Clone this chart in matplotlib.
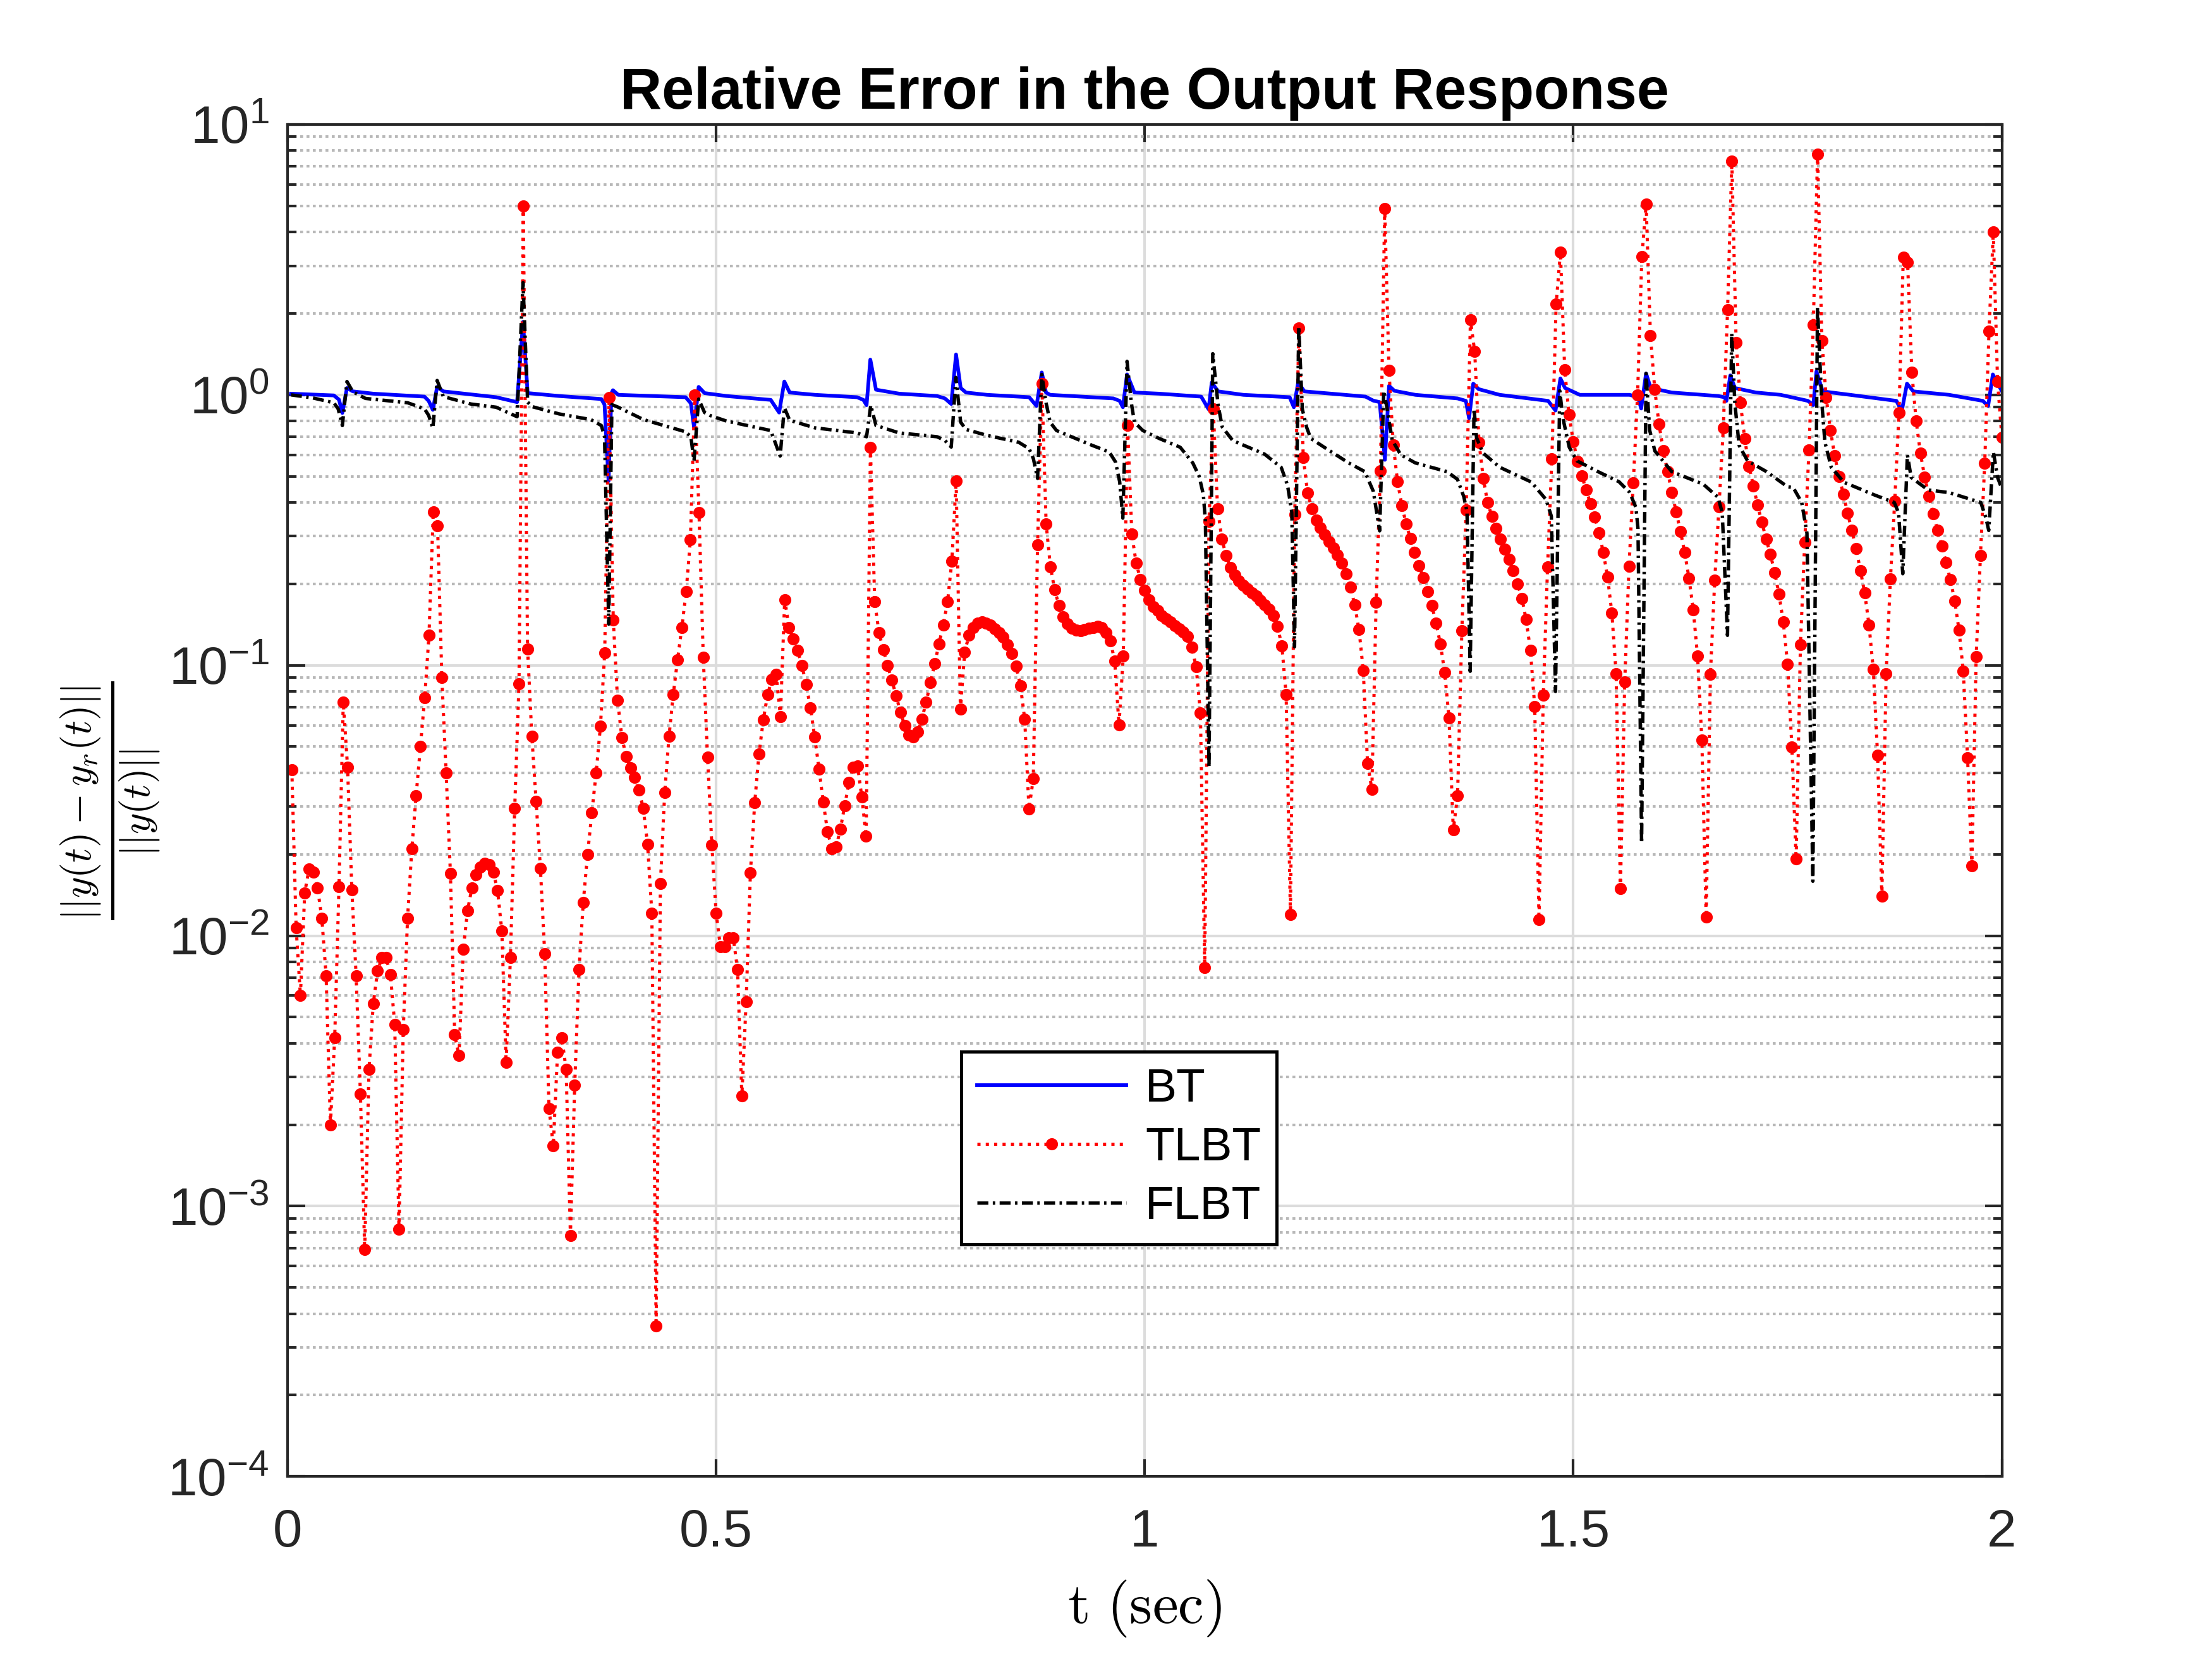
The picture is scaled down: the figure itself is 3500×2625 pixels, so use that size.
import matplotlib
matplotlib.use('Agg')
import matplotlib.pyplot as plt
import numpy as np
from matplotlib.ticker import LogLocator, NullFormatter, FixedLocator

plt.rcParams['font.family'] = ['Liberation Sans', 'DejaVu Sans']
plt.rcParams['mathtext.fontset'] = 'cm'

### TLBT: one marker every 0.005 s (t = 0 is not drawn) ###
tlbt = [
    0.041, 0.0107, 0.0060, 0.0144, 0.0176, 0.0172, 0.0150, 0.0116, 0.0071, 0.0020,
    0.0042, 0.0152, 0.073, 0.042, 0.0148, 0.0071, 0.0026, 0.00069, 0.0032, 0.0056,
    0.0074, 0.0083, 0.0083, 0.0072, 0.0047, 0.00082, 0.0045, 0.0116, 0.021, 0.033,
    0.050, 0.076, 0.129, 0.37, 0.328, 0.090, 0.040, 0.0170, 0.0043, 0.0036,
    0.0089, 0.0124, 0.0150, 0.0168, 0.0179, 0.0185, 0.0183, 0.0172, 0.0147, 0.0104,
    0.0034, 0.0083, 0.0296, 0.0855, 5.0, 0.115, 0.0547, 0.0313, 0.0177, 0.0086,
    0.0023, 0.00167, 0.0037, 0.0042, 0.0032, 0.00078, 0.0028, 0.0075, 0.0133, 0.020,
    0.0285, 0.040, 0.0594, 0.111, 0.98, 0.147, 0.0742, 0.0541, 0.0460, 0.0418,
    0.0385, 0.0345, 0.0295, 0.0218, 0.0121, 0.00036, 0.0156, 0.0338, 0.0545, 0.078,
    0.105, 0.138, 0.187, 0.291, 1.0, 0.367, 0.107, 0.0457, 0.0216, 0.0121,
    0.0091, 0.0091, 0.0098, 0.0098, 0.0075, 0.00255, 0.0057, 0.0171, 0.031, 0.047,
    0.0627, 0.0778, 0.0886, 0.0925, 0.0646, 0.175, 0.138, 0.125, 0.1135, 0.100,
    0.085, 0.0696, 0.0543, 0.0414, 0.0312, 0.0242, 0.0210, 0.0213, 0.0248, 0.0303,
    0.0368, 0.0419, 0.0424, 0.0325, 0.0233, 0.64, 0.172, 0.132, 0.114, 0.100,
    0.088, 0.0771, 0.0671, 0.0597, 0.0551, 0.0543, 0.0567, 0.0633, 0.0730, 0.0863,
    0.1014, 0.120, 0.141, 0.172, 0.243, 0.48, 0.0687, 0.112, 0.129, 0.138,
    0.143, 0.145, 0.143, 0.1405, 0.136, 0.132, 0.127, 0.119, 0.1106, 0.099,
    0.0842, 0.0632, 0.0294, 0.0381, 0.279, 1.1, 0.333, 0.231, 0.190, 0.166,
    0.151, 0.142, 0.137, 0.135, 0.134, 0.1355, 0.137, 0.138, 0.139, 0.1375,
    0.132, 0.123, 0.1035, 0.0603, 0.108, 0.77, 0.305, 0.239, 0.208, 0.189,
    0.175, 0.165, 0.159, 0.153, 0.1485, 0.1448, 0.1404, 0.1367, 0.1325, 0.1275,
    0.1165, 0.0985, 0.0665, 0.0076, 0.34, 0.885, 0.38, 0.293, 0.254, 0.230,
    0.216, 0.205, 0.198, 0.191, 0.185, 0.180, 0.174, 0.167, 0.161, 0.153,
    0.139, 0.118, 0.0778, 0.0120, 0.361, 1.77, 0.586, 0.434, 0.379, 0.345,
    0.322, 0.304, 0.287, 0.271, 0.256, 0.239, 0.218, 0.195, 0.167, 0.1355,
    0.0955, 0.0433, 0.0348, 0.171, 0.523, 4.88, 1.23, 0.653, 0.477, 0.390,
    0.333, 0.294, 0.262, 0.234, 0.211, 0.1875, 0.166, 0.143, 0.1197, 0.094,
    0.0639, 0.0246, 0.0330, 0.134, 0.376, 1.89, 1.445, 0.667, 0.491, 0.400,
    0.356, 0.320, 0.292, 0.269, 0.246, 0.224, 0.200, 0.177, 0.1475, 0.1135,
    0.0703, 0.0115, 0.0774, 0.231, 0.58, 2.17, 3.37, 1.24, 0.845, 0.672,
    0.569, 0.502, 0.445, 0.396, 0.353, 0.309, 0.262, 0.212, 0.156, 0.093,
    0.0149, 0.0868, 0.232, 0.473, 1.0, 3.24, 5.06, 1.66, 1.05, 0.78,
    0.622, 0.521, 0.436, 0.370, 0.313, 0.261, 0.210, 0.160, 0.108, 0.0528,
    0.0117, 0.0928, 0.206, 0.386, 0.753, 2.06, 7.3, 1.56, 0.935, 0.689,
    0.545, 0.461, 0.391, 0.338, 0.293, 0.257, 0.220, 0.183, 0.1445, 0.101,
    0.0499, 0.0192, 0.119, 0.285, 0.626, 1.81, 7.78, 1.59, 0.98, 0.74,
    0.595, 0.500, 0.430, 0.366, 0.315, 0.270, 0.224, 0.185, 0.141, 0.0966,
    0.0465, 0.0140, 0.0933, 0.209, 0.404, 0.86, 3.23, 3.09, 1.21, 0.80,
    0.608, 0.496, 0.422, 0.363, 0.315, 0.276, 0.240, 0.207, 0.173, 0.135,
    0.095, 0.0455, 0.0181, 0.1076, 0.254, 0.557, 1.72, 4.0, 1.12, 0.695,
]
t_tlbt = np.arange(1, len(tlbt) + 1) * 0.005

### BT ###
t_bt = [0.004, 0.054, 0.060, 0.0639, 0.0693, 0.0762, 0.10, 0.1597, 0.1646, 0.1695,
        0.1745, 0.1818, 0.2433, 0.2678, 0.2747, 0.2801, 0.3169, 0.3661, 0.3698, 0.3745,
        0.3779, 0.3796, 0.3858, 0.4644, 0.4705, 0.4742, 0.4796, 0.4865, 0.5120, 0.5637,
        0.5735, 0.5796, 0.5858, 0.6153, 0.6644, 0.6718, 0.6755, 0.6799, 0.6865, 0.7136,
        0.7577, 0.7669, 0.7743, 0.7799, 0.7853, 0.7915, 0.8160, 0.8652, 0.8738, 0.8799,
        0.8848, 0.8897, 0.9634, 0.9708, 0.9745, 0.9794, 0.9843, 0.9880, 1.0168, 1.0659,
        1.0745, 1.0782, 1.0856, 1.1151, 1.1691, 1.1740, 1.1790, 1.1863, 1.2576, 1.2667,
        1.2741, 1.2802, 1.2851, 1.2913, 1.3158, 1.3649, 1.3747, 1.3784, 1.3833, 1.3895,
        1.4141, 1.4706, 1.4793, 1.4850, 1.4904, 1.5076, 1.5657, 1.5755, 1.5792, 1.5849,
        1.5903, 1.6149, 1.6689, 1.6763, 1.6787, 1.6832, 1.6885, 1.7131, 1.7419, 1.7738,
        1.7800, 1.7837, 1.7910, 1.8230, 1.8770, 1.8832, 1.8893, 1.8967, 1.9385, 1.9778,
        1.9840, 1.9895, 1.9950, 1.9995]
bt = [1.01, 0.995, 0.96, 0.857, 1.06, 1.03, 1.01, 0.985, 0.95, 0.88,
      1.07, 1.03, 0.98, 0.94, 1.86, 1.015, 0.99, 0.965, 0.92, 0.48,
      1.015, 1.04, 1.0, 0.98, 0.93, 0.76, 1.07, 1.015, 0.99, 0.958,
      0.86, 1.12, 1.02, 1.0, 0.98, 0.958, 0.916, 1.35, 1.045, 1.01,
      0.99, 0.97, 0.925, 1.41, 1.06, 1.02, 1.0, 0.98, 0.91, 1.21,
      1.02, 1.0, 0.97, 0.95, 0.90, 1.19, 1.09, 1.02, 1.01, 0.985,
      0.885, 1.11, 1.03, 1.0, 0.98, 0.90, 1.11, 1.03, 0.985, 0.952,
      0.94, 0.575, 1.08, 1.035, 1.0, 0.97, 0.95, 0.82, 1.10, 1.05,
      1.0, 0.95, 0.875, 1.15, 1.06, 1.0, 1.0, 0.98, 0.89, 1.2,
      1.06, 1.02, 0.99, 0.98, 0.95, 1.18, 1.06, 1.02, 1.0, 0.95,
      0.916, 1.22, 1.03, 1.0, 0.95, 0.87, 1.10, 1.03, 1.0, 0.95,
      0.91, 1.19, 1.10, 1.04]

### FLBT ###
t_flbt = [0.004, 0.0295, 0.054, 0.059, 0.0639, 0.0693, 0.0762, 0.0909, 0.14, 0.1597,
          0.1646, 0.1695, 0.1745, 0.1818, 0.2138, 0.2433, 0.2678, 0.2747, 0.2801, 0.2850,
          0.3169, 0.3538, 0.3661, 0.3698, 0.3747, 0.3784, 0.3858, 0.4152, 0.4644, 0.4705,
          0.4742, 0.4796, 0.4865, 0.4924, 0.5120, 0.5637, 0.5747, 0.5796, 0.5858, 0.6153,
          0.6644, 0.6755, 0.6804, 0.6865, 0.7136, 0.7577, 0.7669, 0.7743, 0.7797, 0.7853,
          0.7915, 0.8160, 0.8529, 0.8652, 0.8701, 0.8750, 0.8799, 0.8848, 0.8897, 0.8971,
          0.9389, 0.9586, 0.9659, 0.9708, 0.9745, 0.9794, 0.9843, 0.9880, 0.9978, 1.0168,
          1.0414, 1.0561, 1.0635, 1.0684, 1.0708, 1.0750, 1.0794, 1.0856, 1.0905, 1.1028,
          1.1397, 1.1593, 1.1667, 1.1716, 1.1748, 1.1797, 1.1839, 1.1888, 1.1937, 1.2134,
          1.2380, 1.2568, 1.2667, 1.2741, 1.2789, 1.2827, 1.2888, 1.2987, 1.3158, 1.3527,
          1.3649, 1.3723, 1.3760, 1.3797, 1.3842, 1.3871, 1.3945, 1.4141, 1.4510, 1.4682,
          1.4744, 1.4793, 1.4842, 1.4879, 1.4953, 1.5043, 1.5288, 1.5534, 1.5657, 1.5731,
          1.5755, 1.5797, 1.5849, 1.5891, 1.5952, 1.6149, 1.6517, 1.6689, 1.6738, 1.6799,
          1.6848, 1.6885, 1.6935, 1.7033, 1.7254, 1.7500, 1.7566, 1.7665, 1.7726, 1.7795,
          1.7849, 1.7898, 1.7935, 1.8009, 1.8157, 1.8525, 1.8745, 1.8795, 1.8844, 1.8898,
          1.8942, 1.9139, 1.9385, 1.9754, 1.9815, 1.9847, 1.9901, 1.9950, 1.9995]
flbt = [1.0, 0.974, 0.935, 0.888, 0.77, 1.12, 1.026, 0.97, 0.935, 0.888,
        0.84, 0.753, 1.13, 0.985, 0.925, 0.90, 0.83, 2.6, 0.94, 0.905,
        0.85, 0.81, 0.77, 0.70, 0.142, 0.92, 0.90, 0.81, 0.73, 0.70,
        0.57, 0.965, 0.86, 0.84, 0.80, 0.738, 0.594, 0.897, 0.805, 0.755,
        0.723, 0.70, 0.916, 0.77, 0.723, 0.70, 0.678, 0.641, 1.16, 0.792,
        0.745, 0.708, 0.668, 0.632, 0.581, 0.491, 1.19, 0.938, 0.792, 0.738,
        0.65, 0.615, 0.565, 0.477, 0.35, 1.33, 0.938, 0.792, 0.738, 0.69,
        0.64, 0.56, 0.50, 0.428, 0.341, 0.042, 1.42, 0.918, 0.76, 0.677,
        0.604, 0.539, 0.462, 0.368, 0.117, 1.79, 0.885, 0.76, 0.69, 0.628,
        0.56, 0.52, 0.44, 0.314, 1.035, 0.89, 0.68, 0.60, 0.56, 0.52,
        0.487, 0.42, 0.37, 0.095, 0.89, 0.695, 0.61, 0.54, 0.476, 0.41,
        0.356, 0.080, 1.035, 0.82, 0.64, 0.57, 0.52, 0.477, 0.436, 0.383,
        0.32, 0.022, 1.2, 0.74, 0.62, 0.52, 0.467, 0.418, 0.366, 0.129,
        1.69, 0.93, 0.65, 0.57, 0.52, 0.457, 0.454, 0.40, 0.308, 0.0159,
        2.11, 0.95, 0.67, 0.54, 0.475, 0.425, 0.40, 0.366, 0.218, 0.60,
        0.495, 0.445, 0.435, 0.40, 0.35, 0.315, 0.615, 0.495, 0.454]

x_ticks = [0, 0.5, 1, 1.5, 2]
x_tick_labels = ['0', '0.5', '1', '1.5', '2']

fig = plt.figure(figsize=(3500 / 600, 2625 / 600), dpi=600)
ax = fig.add_axes([0.13, 0.11, 0.775, 0.815])

ax.semilogy(t_bt, bt, '-', color='#0000ff', lw=0.7, label='BT')
ax.semilogy(t_tlbt, tlbt, ':', color='#ff0000', lw=0.6, marker='.', markersize=2.6, label='TLBT')
ax.semilogy(t_flbt, flbt, color='k', lw=0.65, dashes=(3.2, 1.3, 0.7, 1.3), label='FLBT')

ax.set_xlim(0, 2)
ax.set_ylim(1e-4, 1e1)
ax.xaxis.set_major_locator(FixedLocator(x_ticks))
ax.set_xticklabels(x_tick_labels)
ax.yaxis.set_major_locator(LogLocator(base=10, numticks=10))
ax.yaxis.set_minor_locator(LogLocator(base=10, subs=np.arange(2, 10), numticks=20))
ax.yaxis.set_minor_formatter(NullFormatter())

axcol = '#262626'
ax.grid(True, which='major', color='#dcdcdc', lw=0.5, ls='-')
ax.grid(True, which='minor', axis='y', color='#b8b8b8', lw=0.5, ls=(0, (1.1, 1.3)))
ax.set_axisbelow(True)
ax.tick_params(which='both', direction='in', top=True, right=True, color=axcol,
               labelcolor=axcol, labelsize=10, width=0.5)
ax.tick_params(which='major', length=3.3)
ax.tick_params(axis='x', which='major', pad=6)
ax.tick_params(which='minor', length=1.7)
for s in ax.spines.values():
    s.set_color(axcol)
    s.set_linewidth(0.5)

ax.set_title('Relative Error in the Output Response', fontsize=11, fontweight='bold', pad=3)
ax.set_xlabel(r'$\mathrm{t\ (sec)}$', fontsize=11)
ax.set_ylabel(r'$\frac{||y(t)-y_r(t)||}{||y(t)||}$', fontsize=11)
ax.xaxis.set_label_coords(0.5, -0.075)
ax.yaxis.set_label_coords(-0.073, 0.5)

leg = ax.legend(loc='center', bbox_to_anchor=(0.485, 0.243), fontsize=9, frameon=True,
                fancybox=False, edgecolor='k', framealpha=1, handlelength=3.15,
                labelspacing=0.32, borderpad=0.33, handletextpad=0.4)
leg.get_frame().set_linewidth(0.6)

fig.savefig('out.png', dpi=600)
